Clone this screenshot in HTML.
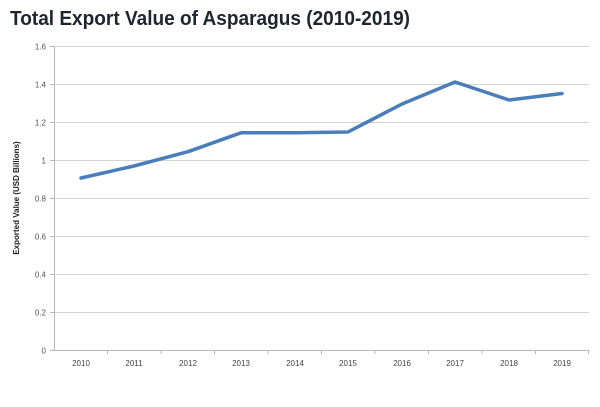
<!DOCTYPE html>
<html><head><meta charset="utf-8"><style>
html,body{margin:0;padding:0;background:#fff;}
svg{display:block;}
</style></head><body>
<svg width="600" height="407" viewBox="0 0 600 407" xmlns="http://www.w3.org/2000/svg">
<rect width="600" height="407" fill="#fff"/>
<text x="10" y="25" font-family="Liberation Sans, sans-serif" font-weight="bold" font-size="20" fill="#1f2530" textLength="400" lengthAdjust="spacingAndGlyphs">Total Export Value of Asparagus (2010-2019)</text>
<g stroke="#d4d4d4" stroke-width="1">
<line x1="54" y1="46.5" x2="589" y2="46.5"/>
<line x1="54" y1="84.5" x2="589" y2="84.5"/>
<line x1="54" y1="122.5" x2="589" y2="122.5"/>
<line x1="54" y1="160.5" x2="589" y2="160.5"/>
<line x1="54" y1="198.5" x2="589" y2="198.5"/>
<line x1="54" y1="236.5" x2="589" y2="236.5"/>
<line x1="54" y1="274.5" x2="589" y2="274.5"/>
<line x1="54" y1="312.5" x2="589" y2="312.5"/>
</g>
<g stroke="#b8b8b8" stroke-width="1">
<line x1="54.5" y1="46" x2="54.5" y2="350"/>
<line x1="54" y1="350.5" x2="589" y2="350.5"/>
<line x1="50" y1="46.5" x2="54" y2="46.5"/>
<line x1="50" y1="84.5" x2="54" y2="84.5"/>
<line x1="50" y1="122.5" x2="54" y2="122.5"/>
<line x1="50" y1="160.5" x2="54" y2="160.5"/>
<line x1="50" y1="198.5" x2="54" y2="198.5"/>
<line x1="50" y1="236.5" x2="54" y2="236.5"/>
<line x1="50" y1="274.5" x2="54" y2="274.5"/>
<line x1="50" y1="312.5" x2="54" y2="312.5"/>
<line x1="50" y1="350.5" x2="54" y2="350.5"/>
<line x1="107.5" y1="350" x2="107.5" y2="354"/>
<line x1="161" y1="350" x2="161" y2="354"/>
<line x1="214.5" y1="350" x2="214.5" y2="354"/>
<line x1="268" y1="350" x2="268" y2="354"/>
<line x1="321.5" y1="350" x2="321.5" y2="354"/>
<line x1="375" y1="350" x2="375" y2="354"/>
<line x1="428.5" y1="350" x2="428.5" y2="354"/>
<line x1="482" y1="350" x2="482" y2="354"/>
<line x1="535.5" y1="350" x2="535.5" y2="354"/>
<line x1="588.5" y1="350" x2="588.5" y2="354"/>
</g>
<g font-family="Liberation Sans, sans-serif" font-size="8" fill="#555" text-anchor="end">
<text x="46" y="49.5">1.6</text>
<text x="46" y="87.5">1.4</text>
<text x="46" y="125.5">1.2</text>
<text x="46" y="163.5">1</text>
<text x="46" y="201.5">0.8</text>
<text x="46" y="239.5">0.6</text>
<text x="46" y="277.5">0.4</text>
<text x="46" y="315.5">0.2</text>
<text x="46" y="353.5">0</text>
</g>
<g font-family="Liberation Sans, sans-serif" font-size="8" fill="#444" text-anchor="middle">
<text x="81" y="366">2010</text>
<text x="134" y="366">2011</text>
<text x="188" y="366">2012</text>
<text x="241" y="366">2013</text>
<text x="295" y="366">2014</text>
<text x="348" y="366">2015</text>
<text x="402" y="366">2016</text>
<text x="455" y="366">2017</text>
<text x="509" y="366">2018</text>
<text x="562" y="366">2019</text>
</g>
<text transform="translate(19,198) rotate(-90)" font-family="Liberation Sans, sans-serif" font-weight="bold" font-size="8" fill="#222" text-anchor="middle">Exported Value (USD Billions)</text>
<polyline fill="none" stroke="#4a7ebb" stroke-width="3.5" stroke-linejoin="round" stroke-linecap="round"
points="81,178 134,166 188,151.7 241,132.8 295,132.8 348,132 402,104 455,82 509,100 562,93.5"/>
</svg>
</body></html>
